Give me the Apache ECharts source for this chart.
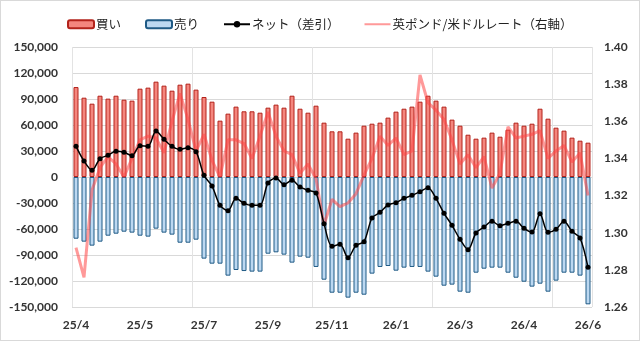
<!DOCTYPE html>
<html>
<head>
<meta charset="utf-8">
<script src="https://cdn.jsdelivr.net/npm/echarts@6/dist/echarts.min.js"></script>
<style>
  body { margin: 0; background: #fff; }
  #wrap { position: relative; width: 640px; height: 341px; }
  #chart { width: 640px; height: 341px; }
  #frame { position: absolute; left: 0; top: 0; width: 640px; height: 341px; box-sizing: border-box; border: 1px solid #d9d9d9; pointer-events: none; }
</style>
</head>
<body>
<div id="wrap"><div id="chart"></div><div id="frame"></div></div>
<script>
var tickLabels = ['25/4', '25/5', '25/7', '25/9', '25/11', '26/1', '26/3', '26/4', '26/6'];

var buy = [
    103800, 91500, 84600, 93800, 90400, 93800, 89200, 88100,
    101900, 103100, 110000, 105400, 99600, 106500, 107700, 100800,
    92300, 86900, 65000, 73100, 81200, 75800, 75800, 74200,
    80000, 83500, 80000, 93800, 78800, 74200, 82300, 62700,
    52700, 52700, 44200, 51200, 59200, 61500, 62700, 68500,
    75400, 78800, 81200, 86900, 93800, 88100, 81200, 66200,
    59200, 48800, 44200, 45400, 51200, 46500, 54600, 62700,
    59200, 61500, 78800, 67300, 56900, 53500, 45400, 41900, 39600
];

var sell = [
    -71200, -74600, -79200, -74600, -67700, -65400, -63100, -64200,
    -67700, -68800, -59600, -64200, -66500, -75800, -75800, -72300,
    -94200, -100000, -100000, -113800, -107300, -108500, -109200, -109200,
    -88500, -86900, -89600, -98800, -91900, -93100, -103800, -118500,
    -133500, -133500, -139200, -133500, -135800, -111500, -103800, -102700,
    -108100, -104600, -103800, -103800, -109200, -115000, -125400, -124200,
    -132300, -133500, -110400, -105800, -104600, -104600, -110400, -116200,
    -120800, -126500, -123100, -132300, -119600, -110400, -110400, -113800, -146900
];

var net = [
    35400, 18500, 7700, 21200, 25000, 29600, 28500, 24600,
    36200, 35400, 53100, 43500, 35400, 31900, 33800, 29200,
    1900, -10400, -32700, -38800, -24600, -30400, -32700, -32700,
    -6900, -1200, -8800, -3800, -11500, -15400, -18500, -53800,
    -80000, -77700, -93100, -78800, -74600, -47300, -40800, -32300,
    -29600, -24600, -21200, -16900, -12300, -24600, -41900, -55800,
    -71900, -83800, -64600, -57700, -51200, -56200, -53500, -51200,
    -59200, -63500, -42300, -63800, -60400, -51200, -62700, -70400, -104200
];

var gbpusd = [
    1.292, 1.276, 1.323, 1.335, 1.341, 1.337, 1.330, 1.340,
    1.350, 1.352, 1.351, 1.343, 1.360, 1.375, 1.361, 1.344,
    1.353, 1.339, 1.330, 1.350, 1.350, 1.348, 1.340, 1.352,
    1.365, 1.352, 1.344, 1.342, 1.332, 1.337, 1.329, 1.304,
    1.318, 1.314, 1.316, 1.321, 1.331, 1.340, 1.352, 1.347,
    1.351, 1.342, 1.344, 1.385, 1.370, 1.366, 1.361, 1.350,
    1.337, 1.342, 1.335, 1.341, 1.324, 1.332, 1.357, 1.351,
    1.352, 1.353, 1.355, 1.340, 1.344, 1.347, 1.338, 1.343, 1.320
];

// one category per week, only every 8th gets a label
var categories = buy.map(function (v, i) { return String(i); });

var labelFont = 'Lato, "Noto Sans", sans-serif';
var jpFont = '"Noto Sans CJK JP", sans-serif';

var myChart = echarts.init(document.getElementById('chart'));

myChart.setOption({
    animation: false,
    backgroundColor: '#fff',
    legend: {
        left: 62,
        top: 13,
        itemWidth: 26,
        itemHeight: 8,
        itemGap: 24,
        data: [
            '買い',
            '売り',
            'ネット（差引）',
            { name: '英ポンド/米ドルレート（右軸）', itemStyle: { opacity: 0 } }
        ],
        textStyle: { fontFamily: jpFont, fontSize: 12.5, color: '#222', padding: [0, 0, 0, -3] }
    },
    grid: { left: 72, right: 48, top: 47, bottom: 34 },
    xAxis: {
        type: 'category',
        data: categories,
        boundaryGap: true,
        axisLine: { show: false },
        axisTick: { show: false },
        axisLabel: {
            interval: 7,
            margin: 12,
            fontFamily: labelFont,
            fontWeight: 'bold',
            fontSize: 12,
            color: '#333',
            formatter: function (value, idx) {
                return tickLabels[Math.round(idx / 8)] || '';
            }
        },
        splitLine: { show: true, interval: 14, lineStyle: { color: '#e3e3e3', width: 1 } }
    },
    yAxis: [
        {
            type: 'value',
            min: -150000,
            max: 150000,
            interval: 30000,
            axisLine: { show: false },
            axisTick: { show: false },
            splitLine: { lineStyle: { color: '#d9d9d9', width: 1 } },
            axisLabel: {
                margin: 14,
                fontFamily: labelFont,
                fontWeight: 'bold',
                fontSize: 12,
                color: '#333',
                formatter: function (v) { return v.toLocaleString('en-US'); }
            }
        },
        {
            type: 'value',
            min: 1.26,
            max: 1.40,
            interval: 0.02,
            axisLine: { show: false },
            axisTick: { show: false },
            splitLine: { show: false },
            axisLabel: {
                margin: 12,
                fontFamily: labelFont,
                fontWeight: 'bold',
                fontSize: 12,
                color: '#333',
                formatter: function (v) { return v.toFixed(2); }
            }
        }
    ],
    series: [
        {
            name: '買い',
            type: 'bar',
            stack: 'pos',
            barWidth: 5,
            data: buy,
            itemStyle: { color: '#f4867e', borderColor: '#b3231b', borderWidth: 1 }
        },
        {
            name: '売り',
            type: 'bar',
            stack: 'pos',
            barWidth: 5,
            data: sell,
            itemStyle: { color: '#bcd8f1', borderColor: '#1f5a85', borderWidth: 1 }
        },
        {
            name: '英ポンド/米ドルレート（右軸）',
            type: 'line',
            yAxisIndex: 1,
            data: gbpusd,
            symbol: 'none',
            z: 3,
            lineStyle: { color: 'rgba(255, 70, 70, 0.55)', width: 3 },
            itemStyle: { color: 'rgba(255, 70, 70, 0.55)' }
        },
        {
            name: 'ネット（差引）',
            type: 'line',
            data: net,
            smooth: 0.3,
            symbol: 'circle',
            symbolSize: 5,
            z: 4,
            lineStyle: { color: '#000', width: 1.5 },
            itemStyle: { color: '#000' }
        }
    ]
});
</script>
</body>
</html>
